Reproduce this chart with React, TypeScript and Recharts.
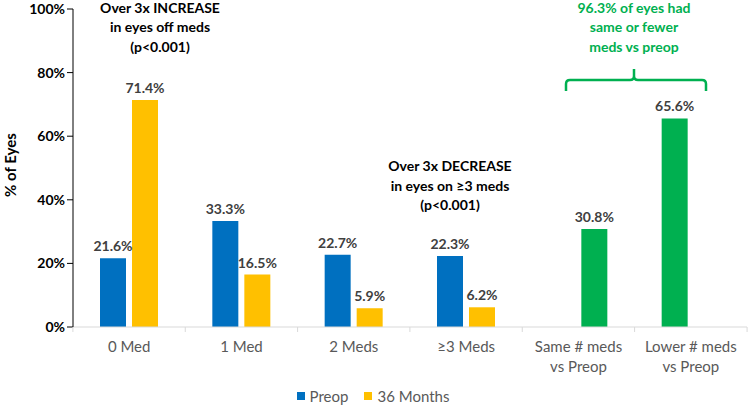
import { Bar, BarChart, Cell, Customized, LabelList, Legend, XAxis, YAxis } from 'recharts';

// values
const categories = ['0 Med', '1 Med', '2 Meds', '≥3 Meds', 'Same # meds\nvs Preop', 'Lower # meds\nvs Preop'];
const preop = [21.6, 33.3, 22.7, 22.3, null, 65.6];
const months36 = [71.4, 16.5, 5.9, 6.2, 30.8, null];
const highlighted = [false, false, false, false, true, true];
const yTicks = [0, 20, 40, 60, 80, 100];

const data = categories.map((name, i) => ({
  name,
  preop: preop[i],
  months36: months36[i],
  green: highlighted[i],
}));

const FONT = 'Lato, "Open Sans", sans-serif';
const BLUE = '#0070C0';
const YELLOW = '#FFC000';
const GREEN = '#00B050';
const BAND = 112.5;

const pct = (v: any) => (v == null ? '' : `${Number(v).toFixed(1)}%`);

const CategoryTick = ({ x, y, payload, index }: any) => {
  const lines = String(payload.value).split('\n');
  return (
    <g>
      <line x1={x - BAND / 2} x2={x - BAND / 2} y1={y} y2={y + 5} stroke="#d9d9d9" />
      {index === categories.length - 1 && (
        <line x1={x + BAND / 2} x2={x + BAND / 2} y1={y} y2={y + 5} stroke="#d9d9d9" />
      )}
      {lines.map((l, i) => (
        <text key={i} x={x} y={y + 25 + i * 20} textAnchor="middle" fill="#595959" fontSize={15} fontFamily={FONT}>
          {l}
        </text>
      ))}
    </g>
  );
};

const Annotations = () => (
  <g fontFamily={FONT} fontWeight="bold" fontSize={14} textAnchor="middle">
    <text x={12} y={165} transform="rotate(-90 12 165)" fill="#000" fontSize={15} dominantBaseline="middle">
      % of Eyes
    </text>
    <text x={160} y={13} fill="#000">Over 3x INCREASE</text>
    <text x={160} y={32} fill="#000">in eyes off meds</text>
    <text x={160} y={52} fill="#000">(p&lt;0.001)</text>
    <text x={450} y={171} fill="#000">Over 3x DECREASE</text>
    <text x={450} y={191} fill="#000">in eyes on ≥3 meds</text>
    <text x={450} y={210} fill="#000">(p&lt;0.001)</text>
    <text x={634} y={13} fill={GREEN}>96.3% of eyes had</text>
    <text x={634} y={32} fill={GREEN}>same or fewer</text>
    <text x={634} y={52} fill={GREEN}>meds vs preop</text>
    <path
      d="M566,91 L566,84 Q566,80 570,80 L630,80 Q634,80 634,76 L634,69 M634,76 Q634,80 638,80 L702,80 Q706,80 706,84 L706,91"
      fill="none"
      stroke={GREEN}
      strokeWidth={2.5}
    />
  </g>
);

const LegendContent = () => (
  <div style={{ display: 'flex', justifyContent: 'center', gap: 16, fontFamily: FONT, fontSize: 15, color: '#595959' }}>
    {[
      { label: 'Preop', color: BLUE },
      { label: '36 Months', color: YELLOW },
    ].map((it) => (
      <span key={it.label} style={{ display: 'flex', alignItems: 'center', gap: 5 }}>
        <span style={{ width: 8, height: 8, background: it.color, display: 'inline-block' }} />
        {it.label}
      </span>
    ))}
  </div>
);

export default function App() {
  return (
    <div style={{ position: 'absolute', left: 0, top: 0, background: '#fff' }}>
      <BarChart
        width={750}
        height={407}
        data={data}
        margin={{ top: 9, right: 3, bottom: 0, left: 0 }}
        barSize={26}
        barGap={6}
      >
        <XAxis
          dataKey="name"
          height={80}
          interval={0}
          tickLine={false}
          tickSize={0}
          tickMargin={0}
          axisLine={{ stroke: '#d9d9d9' }}
          tick={<CategoryTick />}
        />
        <YAxis
          width={73}
          domain={[0, 100]}
          ticks={yTicks}
          tickFormatter={(v) => `${v}%`}
          axisLine={{ stroke: '#000' }}
          tickLine={{ stroke: '#000' }}
          tickSize={6}
          tick={{ fill: '#000', fontSize: 14, fontWeight: 'bold', fontFamily: FONT }}
        />
        <Legend
          verticalAlign="middle"
          content={<LegendContent />}
          wrapperStyle={{ top: 387, left: 0, width: 746 }}
        />
        <Bar dataKey="preop" name="Preop" fill={BLUE} isAnimationActive={false}>
          {data.map((d, i) => (
            <Cell key={i} fill={d.green ? GREEN : BLUE} />
          ))}
          <LabelList dataKey="preop" position="top" offset={7} formatter={pct} fill="#404040" fontSize={14} fontWeight="bold" fontFamily={FONT} />
        </Bar>
        <Bar dataKey="months36" name="36 Months" fill={YELLOW} isAnimationActive={false}>
          {data.map((d, i) => (
            <Cell key={i} fill={d.green ? GREEN : YELLOW} />
          ))}
          <LabelList dataKey="months36" position="top" offset={7} formatter={pct} fill="#404040" fontSize={14} fontWeight="bold" fontFamily={FONT} />
        </Bar>
        <Customized component={Annotations} />
      </BarChart>
    </div>
  );
}
